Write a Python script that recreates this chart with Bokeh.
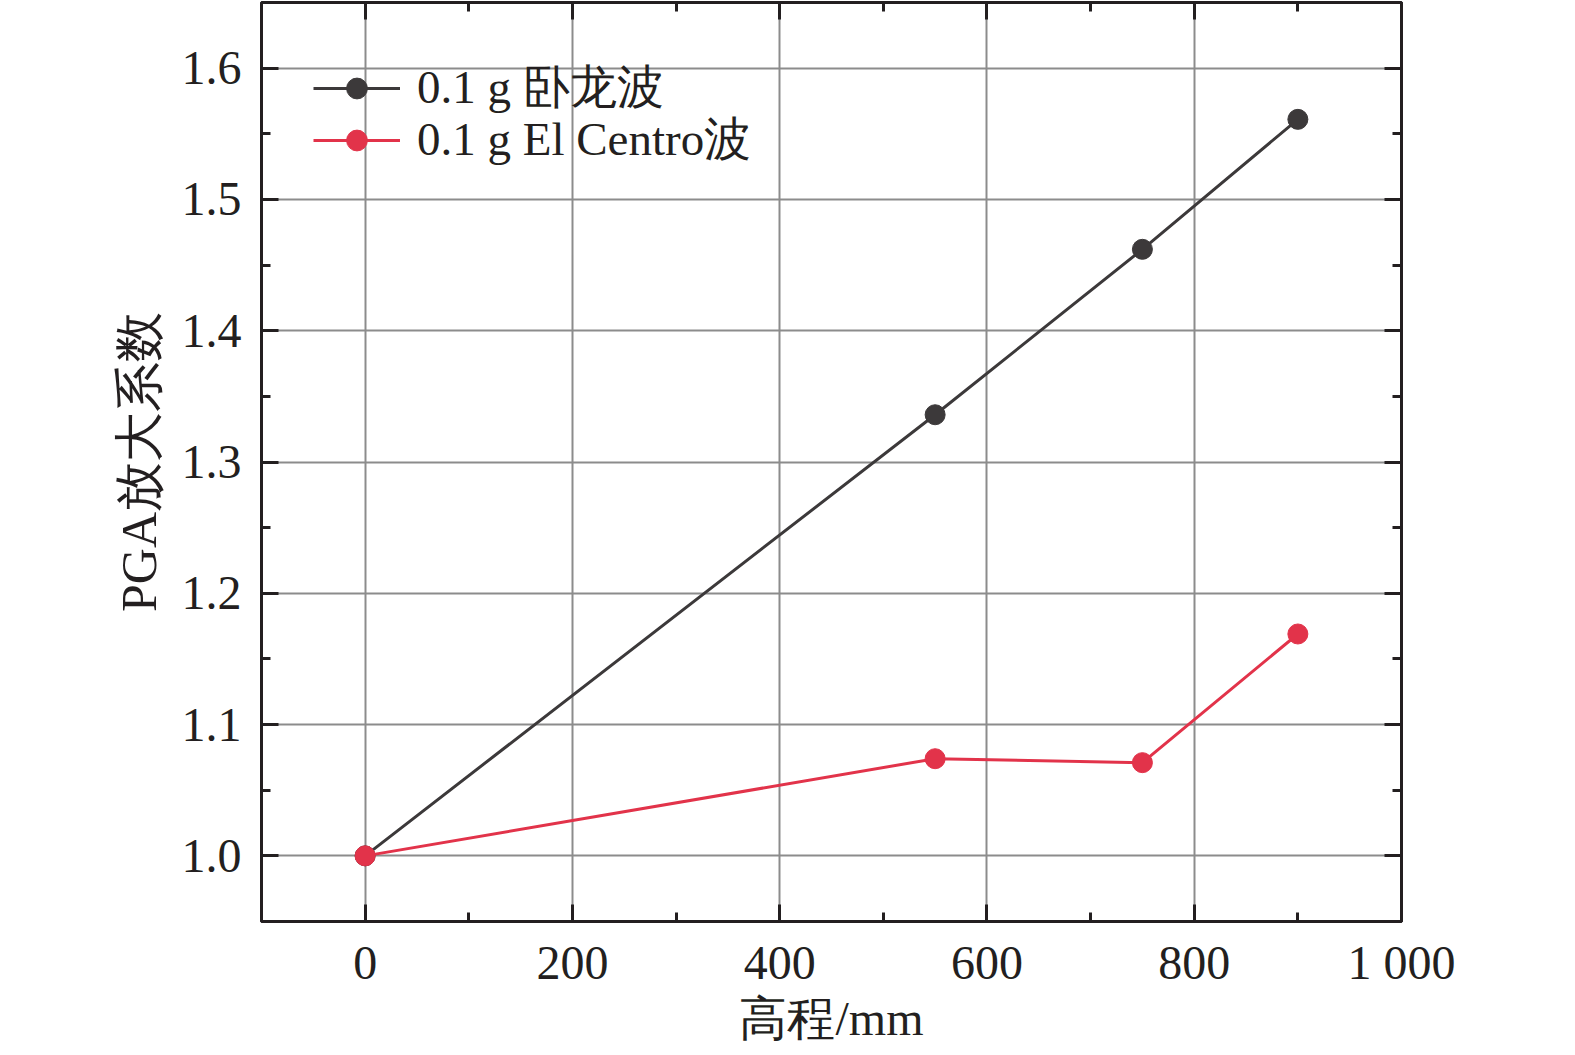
from bokeh.plotting import figure
from bokeh.models import LinearAxis, FixedTicker, Legend, LegendItem, Range1d
from bokeh.embed import file_html
from bokeh.resources import INLINE

# ---- data ----
heights = [0, 550, 750, 900]
wolong = [1.0, 1.336, 1.462, 1.561]
elcentro = [1.0, 1.074, 1.071, 1.169]
series_names = ["0.1 g 卧龙波", "0.1 g El Centro波"]
series_colors = ["#3c393a", "#e2334a"]

x_ticks = [0, 200, 400, 600, 800, 1000]
x_tick_labels = ["0", "200", "400", "600", "800", "1 000"]
x_minor = [100, 300, 500, 700, 900]
y_ticks = [1.0, 1.1, 1.2, 1.3, 1.4, 1.5, 1.6]
y_tick_labels = ["1.0", "1.1", "1.2", "1.3", "1.4", "1.5", "1.6"]
y_minor = [1.05, 1.15, 1.25, 1.35, 1.45, 1.55]

x_title = "高程/mm"
y_title = "PGA放大系数"

FONT = "Liberation Serif"

W, H = 1559, 1047
p = figure(width=W, height=H, output_backend="svg", toolbar_location=None,
           x_range=Range1d(-100, 1000), y_range=Range1d(0.95, 1.65),
           min_border_left=261, min_border_right=158,
           min_border_top=2, min_border_bottom=126)
p.background_fill_color = "white"
p.border_fill_color = "white"
p.outline_line_color = "#231f20"
p.outline_line_width = 3

xt = FixedTicker(ticks=x_ticks, minor_ticks=x_minor)
yt = FixedTicker(ticks=y_ticks, minor_ticks=y_minor)

def style_axis(ax, show_labels=True):
    ax.axis_line_color = "#231f20"
    ax.axis_line_width = 3
    ax.major_tick_line_color = "#231f20"
    ax.major_tick_line_width = 3
    ax.minor_tick_line_color = "#231f20"
    ax.minor_tick_line_width = 3
    ax.major_tick_in = 17
    ax.major_tick_out = 0
    ax.minor_tick_in = 9
    ax.minor_tick_out = 0
    ax.major_label_text_font = FONT
    ax.major_label_text_color = "#231f20"
    if show_labels:
        ax.major_label_text_font_size = "48px"
    else:
        ax.major_label_text_color = None
        ax.major_label_text_font_size = "1px"
        ax.major_label_standoff = 0

xax = p.xaxis[0]
xax.ticker = xt
style_axis(xax)
xax.major_label_overrides = {t: l for t, l in zip(x_ticks, x_tick_labels)}
xax.major_label_standoff = 14
xax.axis_label = x_title
xax.axis_label_text_font = FONT
xax.axis_label_text_font_size = "48px"
xax.axis_label_text_font_style = "normal"
xax.axis_label_text_color = "#231f20"
xax.axis_label_standoff = 0

yax = p.yaxis[0]
yax.ticker = yt
style_axis(yax)
yax.major_label_overrides = {t: l for t, l in zip(y_ticks, y_tick_labels)}
yax.major_label_standoff = 20
yax.axis_label = y_title
yax.axis_label_text_font = FONT
yax.axis_label_text_font_size = "50px"
yax.axis_label_text_font_style = "normal"
yax.axis_label_text_color = "#231f20"
yax.axis_label_standoff = 12

top = LinearAxis(ticker=xt)
style_axis(top, show_labels=False)
p.add_layout(top, "above")
right = LinearAxis(ticker=yt)
style_axis(right, show_labels=False)
p.add_layout(right, "right")

p.xgrid.ticker = FixedTicker(ticks=x_ticks)
p.ygrid.ticker = FixedTicker(ticks=y_ticks)
for g in (p.xgrid[0], p.ygrid[0]):
    g.grid_line_color = "#8c8c8c"
    g.grid_line_width = 2

legend_y = [802, 750]
for name, ys, col, ly in zip(series_names, [wolong, elcentro], series_colors, legend_y):
    ln = p.line(heights, ys, line_color=col, line_width=3)
    sc = p.scatter(heights, ys, size=20, fill_color=col, line_color=col)
    legend = Legend(items=[LegendItem(label=name, renderers=[ln, sc])], location=(52, ly))
    legend.border_line_color = None
    legend.background_fill_alpha = 0
    legend.padding = 0
    legend.margin = 0
    legend.spacing = 0
    legend.glyph_width = 87
    legend.glyph_height = 52
    legend.label_height = 52
    legend.label_standoff = 17
    legend.label_text_font = FONT
    legend.label_text_font_size = "47px"
    legend.label_text_color = "#231f20"
    p.add_layout(legend)

open("out.html", "w").write(file_html(p, INLINE))
